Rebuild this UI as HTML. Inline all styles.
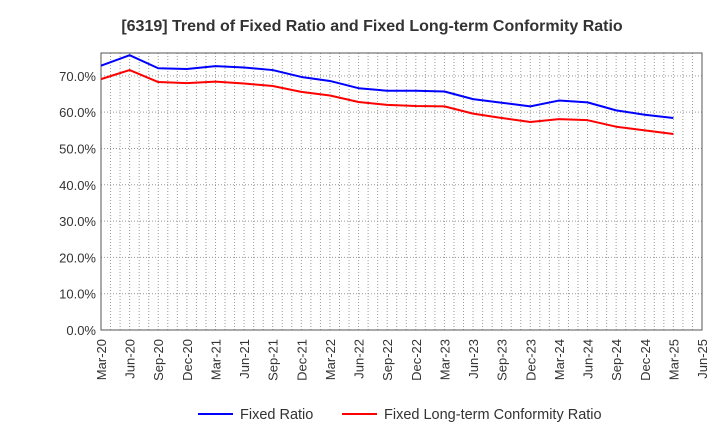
<!DOCTYPE html>
<html><head><meta charset="utf-8"><style>
body{margin:0;background:#fff;font-family:"Liberation Sans",sans-serif}
</style></head><body>
<svg id="chart" width="720" height="440" xmlns="http://www.w3.org/2000/svg">
<text x="372" y="31" text-anchor="middle" font-size="16" font-weight="bold" fill="#333">[6319]  Trend of Fixed Ratio and Fixed Long-term Conformity Ratio</text>
<g id="grid"></g><g id="axes"></g><g id="series"></g>
<g>
<line x1="198" y1="414" x2="233" y2="414" stroke="#0000ff" stroke-width="2"/>
<text x="240" y="419" font-size="14.5" fill="#333">Fixed Ratio</text>
<line x1="342" y1="414" x2="377" y2="414" stroke="#ff0000" stroke-width="2"/>
<text x="384" y="419" font-size="14.5" fill="#333">Fixed Long-term Conformity Ratio</text>
</g>
</svg>
<script>
const categories=["Mar-20","Jun-20","Sep-20","Dec-20","Mar-21","Jun-21","Sep-21","Dec-21","Mar-22","Jun-22","Sep-22","Dec-22","Mar-23","Jun-23","Sep-23","Dec-23","Mar-24","Jun-24","Sep-24","Dec-24","Mar-25","Jun-25"];
const fixedRatio=[72.8,75.7,72.1,71.9,72.7,72.3,71.6,69.7,68.6,66.6,65.9,65.9,65.7,63.6,62.6,61.6,63.2,62.7,60.5,59.3,58.4];
const longTermRatio=[69.1,71.6,68.3,68.0,68.4,67.9,67.2,65.6,64.6,62.8,62.0,61.7,61.6,59.6,58.4,57.3,58.1,57.8,56.0,55.0,54.0];
const yTicks=[0,10,20,30,40,50,60,70];
const NS="http://www.w3.org/2000/svg";
const L=101,R=702,T=53,B=330,YMAX=76.3;
const nQ=categories.length-1;
function xq(i){return L+(R-L)*i/nQ;}
function y(v){return B-(B-T)*v/YMAX;}
function mk(tag,attrs,parent){const e=document.createElementNS(NS,tag);for(const k in attrs)e.setAttribute(k,attrs[k]);parent.appendChild(e);return e;}
const grid=document.getElementById('grid'),axes=document.getElementById('axes'),series=document.getElementById('series');
for(let m=1;m<nQ*3;m++){const x=L+(R-L)*m/(nQ*3);
const g=mk('line',{x1:x,x2:x,y1:T,y2:B,stroke:'#999','stroke-dasharray':'1,2','stroke-width':1},grid);

}
yTicks.forEach(v=>{const yy=y(v);
if(v>0){const g=mk('line',{x1:L,x2:R,y1:yy,y2:yy,stroke:'#999','stroke-dasharray':'1,2'},grid);

}
const t=mk('text',{x:L-5,y:yy+5,'text-anchor':'end','font-size':13,fill:'#333'},axes);t.textContent=v.toFixed(1)+'%';

});
const fr=mk('rect',{x:L,y:T,width:R-L,height:B-T,fill:'none',stroke:'#555','stroke-width':1},axes);


categories.forEach((c,i)=>{const x=xq(i);
const t=mk('text',{x:0,y:0,'text-anchor':'end','font-size':13,fill:'#333',transform:`translate(${x+5},${B+9}) rotate(-90)`},axes);t.textContent=c;

});
function line(data,color,name){const p=mk('polyline',{points:data.map((v,i)=>xq(i)+','+y(v)).join(' '),fill:'none',stroke:color,'stroke-width':2,'stroke-linejoin':'round'},series);

}
line(longTermRatio,'#ff0000','fixed-long-term-conformity-ratio-line');
line(fixedRatio,'#0000ff','fixed-ratio-line');
</script>
</body></html>
